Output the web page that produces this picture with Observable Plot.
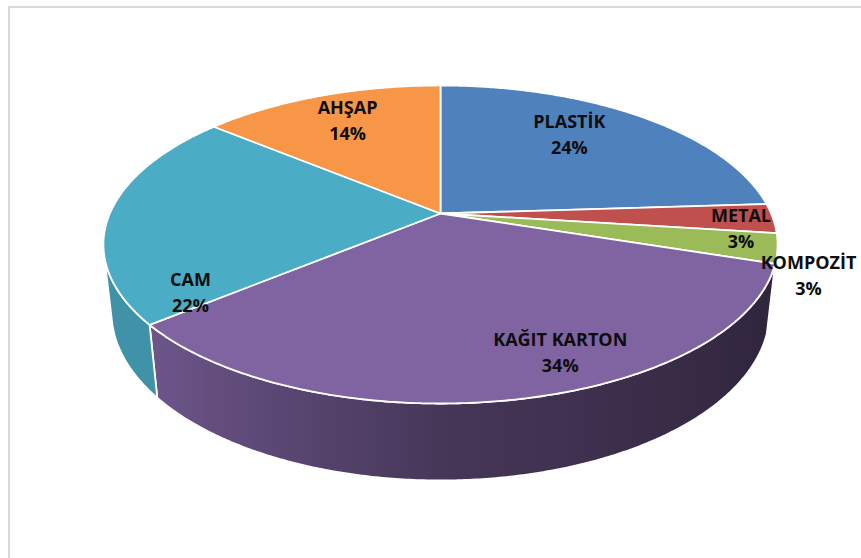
<!DOCTYPE html>
<html><head><meta charset="utf-8">
<script src="https://cdn.jsdelivr.net/npm/d3@7"></script>
<script src="https://cdn.jsdelivr.net/npm/@observablehq/plot@0.6"></script>
<style>
html,body{margin:0;padding:0;background:#fff;}
#wrap{position:relative;width:861px;height:558px;overflow:hidden;background:#fff;}
#chart{position:absolute;left:0;top:0;}
#frame{position:absolute;left:8px;top:6px;width:900px;height:600px;border:2px solid #d9d9d9;box-sizing:border-box;pointer-events:none;}
</style></head><body>
<div id="wrap"><div id="chart"></div><div id="frame"></div></div>
<script>
// ---- data ----
const categories = ["PLASTİK", "METAL", "KOMPOZİT", "KAĞIT KARTON", "CAM", "AHŞAP"];
const shares = [24, 3, 3, 34, 22, 14];

// ---- styles / layout (not data) ----
const palette = ["#4f81bd", "#c0504d", "#9bbb59", "#8064a2", "#4bacc6", "#f79646"];
const labelOutside = [false, true, true, false, false, false];
const labelNudge = [[-19, -8], [-32, 8], [31, 25], [68, 12], [-12, 77], [-3, -6]];

// 3D perspective parameters (tilt, camera distance, thickness)
const s = 0.4627, c = 0.8865, D = 4.549, T = 0.233, F = 1504;
function proj(theta, rho, z) {
  const X = rho * Math.sin(theta), Y = rho * Math.cos(theta);
  const depth = D + Y * c - z * s;
  return [X / depth, (Y * s + z * c) / depth];
}
function shade(hex, theta) {
  const sn = Math.sin(theta);
  let k = sn < 0 ? 0.55 - 0.39 * sn : 0.55 - 0.19 * sn;
  k = Math.min(0.85, k);
  const col = d3.rgb(hex);
  return d3.rgb(col.r * k, col.g * k, col.b * k).formatHex();
}

const total = d3.sum(shares);
let acc = 0;
const slices = categories.map((name, i) => {
  const a0 = acc / total * 2 * Math.PI;
  acc += shares[i];
  const a1 = acc / total * 2 * Math.PI;
  return {name, value: shares[i], a0, a1, color: palette[i], i};
});

const step = Math.PI / 360;
// top faces
const topPts = [];
for (const sl of slices) {
  const [ax, ay] = proj(0, 0, 0);
  topPts.push({id: sl.name, x: ax, y: ay, fill: sl.color});
  const n = Math.max(2, Math.ceil((sl.a1 - sl.a0) / step));
  for (let j = 0; j <= n; j++) {
    const th = sl.a0 + (sl.a1 - sl.a0) * j / n;
    const [x, y] = proj(th, 1, 0);
    topPts.push({id: sl.name, x, y, fill: sl.color});
  }
}
// visible side range (silhouette of the cylinder)
const tv0 = Math.acos(-1 / (D * c)), tv1 = 2 * Math.PI - tv0;
const sidePts = [], sideGrads = [];
for (const sl of slices) {
  const b0 = Math.max(sl.a0, tv0), b1 = Math.min(sl.a1, tv1);
  if (b1 <= b0) continue;
  const gid = "side-grad-" + sl.i;
  const n = Math.max(4, Math.ceil((b1 - b0) / step));
  const outline = [];
  for (let j = 0; j <= n; j++) outline.push([b0 + (b1 - b0) * j / n, 0]);
  for (let j = n; j >= 0; j--) outline.push([b0 + (b1 - b0) * j / n, -T]);
  for (const [th, z] of outline) {
    const [x, y] = proj(th, 1, z);
    sidePts.push({id: sl.name, x, y, fill: `url(#${gid})`});
  }
  const samples = d3.range(0, 25).map(j => {
    const th = b0 + (b1 - b0) * j / 24;
    return {x: proj(th, 1, -T / 2)[0], color: shade(sl.color, th)};
  });
  sideGrads.push({gid, samples});
}
// labels
const labels = slices.map(sl => {
  const mid = (sl.a0 + sl.a1) / 2;
  const [x, y] = proj(mid, labelOutside[sl.i] ? 1.0 : 0.72, 0);
  return {x, y, text: sl.name + "\n" + sl.value + "%", dx: labelNudge[sl.i][0], dy: labelNudge[sl.i][1]};
});

const plot = Plot.plot({
  width: 861, height: 558, margin: 0,
  x: {domain: [-440 / F, 421 / F], axis: null},
  y: {domain: [-345 / F, 213 / F], axis: null},
  color: {type: "identity"},
  style: {background: "transparent", fontFamily: "'Open Sans', sans-serif"},
  marks: [
    Plot.line(sidePts, {x: "x", y: "y", z: "id", fill: "fill", stroke: "white", strokeWidth: 1.8, curve: "linear-closed"}),
    Plot.line(topPts, {x: "x", y: "y", z: "id", fill: "fill", stroke: "white", strokeWidth: 1.8, curve: "linear-closed"}),
    ...labels.map(l => Plot.text([l], {x: "x", y: "y", text: "text", dx: l.dx, dy: l.dy, fontSize: 18, fontWeight: "bold", lineHeight: 1.45, fill: "#0d0d0d", textAnchor: "middle"}))
  ]
});

// horizontal shading gradients for the visible sides, positioned with the plot's x scale
const xs = plot.scale("x");
const svgNS = "http://www.w3.org/2000/svg";
const svg = plot.tagName.toLowerCase() === "svg" ? plot : plot.querySelector("svg");
const defs = document.createElementNS(svgNS, "defs");
for (const g of sideGrads) {
  const px = g.samples.map(d => xs.apply(d.x));
  const lo = d3.min(px), hi = d3.max(px);
  const lg = document.createElementNS(svgNS, "linearGradient");
  lg.setAttribute("id", g.gid);
  lg.setAttribute("gradientUnits", "userSpaceOnUse");
  lg.setAttribute("x1", lo); lg.setAttribute("x2", hi);
  lg.setAttribute("y1", 0); lg.setAttribute("y2", 0);
  const stops = g.samples.map((d, j) => ({o: (px[j] - lo) / (hi - lo || 1), color: d.color})).sort((a, b) => a.o - b.o);
  for (const st of stops) {
    const e = document.createElementNS(svgNS, "stop");
    e.setAttribute("offset", st.o);
    e.setAttribute("stop-color", st.color);
    lg.appendChild(e);
  }
  defs.appendChild(lg);
}
svg.insertBefore(defs, svg.firstChild);
document.getElementById("chart").appendChild(plot);
</script>
</body></html>
